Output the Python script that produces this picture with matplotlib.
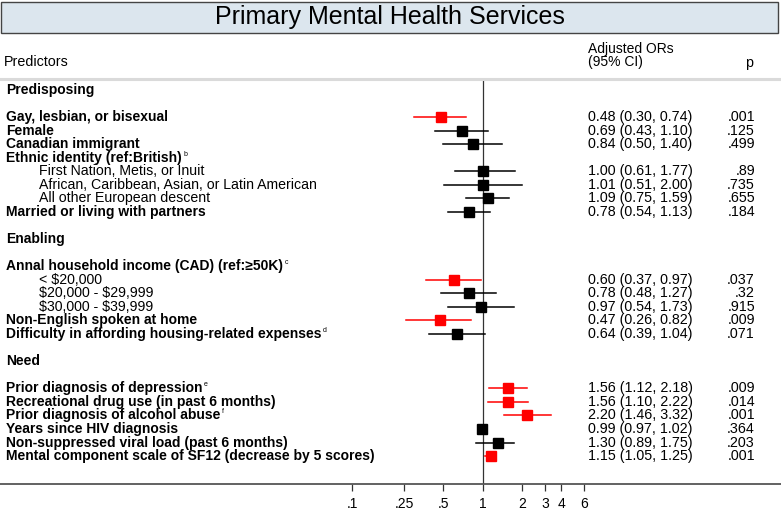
import numpy as np
import matplotlib
matplotlib.use("Agg")
import matplotlib.pyplot as plt
from matplotlib.patches import Rectangle
from matplotlib.lines import Line2D

plt.rcParams['font.family'] = ['Liberation Sans', 'DejaVu Sans']

nan = np.nan

# --- table rows (section headers, predictors, blank spacer rows) ---
row_labels = [
    "Predisposing", "",
    "Gay, lesbian, or bisexual", "Female", "Canadian immigrant",
    "Ethnic identity (ref:British)",
    "First Nation, Metis, or Inuit",
    "African, Caribbean, Asian, or Latin American",
    "All other European descent",
    "Married or living with partners", "",
    "Enabling", "",
    "Annal household income (CAD) (ref:\u226550K)",
    "< $20,000", "$20,000 - $29,999", "$30,000 - $39,999",
    "Non-English spoken at home",
    "Difficulty in affording housing-related expenses", "",
    "Need", "",
    "Prior diagnosis of depression",
    "Recreational drug use (in past 6 months)",
    "Prior diagnosis of alcohol abuse",
    "Years since HIV diagnosis",
    "Non-suppressed viral load (past 6 months)",
    "Mental component scale of SF12 (decrease by 5 scores)",
]
row_notes = ["", "", "", "", "", "b", "", "", "", "", "", "", "",
             "c", "", "", "", "", "d", "", "", "", "e", "", "f", "", "", ""]
sub_rows = [6, 7, 8, 14, 15, 16]

odds_ratio = [nan, nan, 0.48, 0.69, 0.84, nan, 1.00, 1.01, 1.09, 0.78, nan, nan, nan,
              nan, 0.60, 0.78, 0.97, 0.47, 0.64, nan, nan, nan,
              1.56, 1.56, 2.20, 0.99, 1.30, 1.15]
ci_low = [nan, nan, 0.30, 0.43, 0.50, nan, 0.61, 0.51, 0.75, 0.54, nan, nan, nan,
          nan, 0.37, 0.48, 0.54, 0.26, 0.39, nan, nan, nan,
          1.12, 1.10, 1.46, 0.97, 0.89, 1.05]
ci_high = [nan, nan, 0.74, 1.10, 1.40, nan, 1.77, 2.00, 1.59, 1.13, nan, nan, nan,
           nan, 0.97, 1.27, 1.73, 0.82, 1.04, nan, nan, nan,
           2.18, 2.22, 3.32, 1.02, 1.75, 1.25]
p_text = ["", "", ".001", ".125", ".499", "", ".89", ".735", ".655", ".184", "", "", "",
          "", ".037", ".32", ".915", ".009", ".071", "", "", "",
          ".009", ".014", ".001", ".364", ".203", ".001"]

tick_vals = [0.1, 0.25, 0.5, 1, 2, 3, 4, 6]
tick_text = [".1", ".25", ".5", "1", "2", "3", "4", "6"]

W, H = 781, 521
fig = plt.figure(figsize=(W / 100, H / 100), dpi=100)

def fy(py):
    return 1 - py / H

# plot area spans full width, from header separator down to the x axis
ax = fig.add_axes([0, fy(484), 1, fy(79) - fy(484)])
ax.set_xscale('log')
ax.set_xlim(2.01e-4, 192.7)
ax.set_ylim(29.06, -0.811)

for s in ['top', 'left', 'right']:
    ax.spines[s].set_visible(False)
ax.spines['bottom'].set_color('#555555')
ax.spines['bottom'].set_linewidth(1.3)
ax.set_yticks([])
ax.set_xticks(tick_vals)
ax.set_xticklabels(tick_text, fontsize=10)
ax.xaxis.set_minor_locator(matplotlib.ticker.NullLocator())
ax.tick_params(axis='x', length=5, width=0.9, color='#333333', pad=4)

ax.axvline(1, color='#333333', lw=0.9, zorder=1)

tr = ax.get_yaxis_transform()
for i, lab in enumerate(row_labels):
    if not lab:
        continue
    if i in sub_rows:
        t = ax.text(39 / W, i, lab, transform=tr, fontsize=10.2, va='center', ha='left',
                    parse_math=False)
    else:
        t = ax.text(6 / W, i, lab, transform=tr, fontsize=10, fontweight='bold',
                    va='center', ha='left', parse_math=False)
    if row_notes[i]:
        ax.annotate(row_notes[i], xy=(1, 1), xycoords=t, xytext=(1, 0),
                    textcoords='offset points', fontsize=5, va='top', ha='left')

    if np.isnan(odds_ratio[i]):
        continue
    sig = float(p_text[i]) < 0.05
    col = '#ff0000' if sig else '#000000'
    ax.plot([ci_low[i], ci_high[i]], [i, i], color=col, lw=1.1, zorder=2)
    ax.plot(odds_ratio[i], i, marker='s', color=col, ms=6.6 if sig else 7.2,
            ls='none', zorder=3)
    ax.text(588 / W, i, f"{odds_ratio[i]:.2f} ({ci_low[i]:.2f}, {ci_high[i]:.2f})",
            transform=tr, fontsize=10.3, va='center', ha='left')
    ax.text(755 / W, i, p_text[i], transform=tr, fontsize=10.3, va='center', ha='right')

# title box
fig.patches.append(Rectangle((1 / W, fy(33)), 777 / W, 31 / H, transform=fig.transFigure,
                             facecolor='#dce6ee', edgecolor='#444444', lw=1.0))
fig.text(390 / W, fy(17), "Primary Mental Health Services", fontsize=18,
         ha='center', va='center')

# column headers
fig.text(4 / W, fy(62), "Predictors", fontsize=10.3, ha='left', va='center')
fig.text(588 / W, fy(49), "Adjusted ORs", fontsize=10, ha='left', va='center')
fig.text(588 / W, fy(62), "(95% CI)", fontsize=10, ha='left', va='center')
fig.text(753 / W, fy(63), "p", fontsize=10.3, ha='right', va='center')
fig.lines.append(Line2D([0, 1], [fy(79), fy(79)], transform=fig.transFigure,
                        color='#dadada', lw=2.2))

fig.savefig('out.png', dpi=100)
